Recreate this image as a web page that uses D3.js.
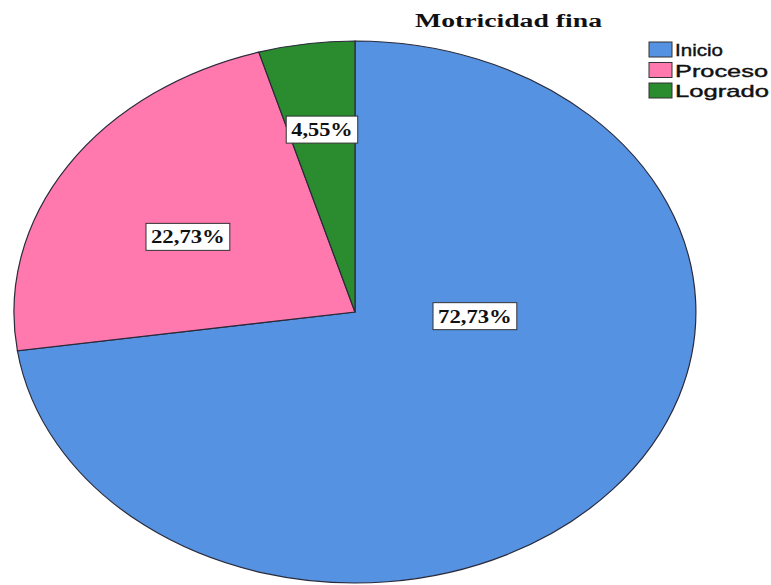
<!DOCTYPE html>
<html>
<head>
<meta charset="utf-8">
<script src="https://cdn.jsdelivr.net/npm/d3@7/dist/d3.min.js"></script>
<style>
  html, body { margin: 0; padding: 0; background: #fff; }
  svg { display: block; }
</style>
</head>
<body>
<script>
// Chart data
const title = "Motricidad fina";
const categories = ["Inicio", "Proceso", "Logrado"];
const percents = [72.73, 22.73, 4.55];
const colors = ["#5592E2", "#FF78AE", "#2B8B2F"];

const W = 771, H = 585;
const cx = 355, cy = 312, rx = 341, ry = 271;

// Label anchors (angle in degrees clockwise from 12 o'clock, radial fraction of the ellipse)
const labelAnchors = [
  { angle: 92.5, r: 0.352 },
  { angle: 299.5, r: 0.563 },
  { angle: null, r: 0.68 }
];

const svg = d3.select("body").append("svg")
  .attr("width", W).attr("height", H);

const data = categories.map((c, i) => ({ name: c, value: percents[i], color: colors[i] }));

const pie = d3.pie().sort(null).value(d => d.value);
const arcs = pie(data);
const arc = d3.arc().innerRadius(0).outerRadius(1);

// Elliptical pie: unit arcs stretched to the ellipse radii
const g = svg.append("g").attr("transform", `translate(${cx},${cy}) scale(${rx},${ry})`);
g.selectAll("path").data(arcs).join("path")
  .attr("d", arc)
  .attr("fill", d => d.data.color)
  .attr("stroke", "#2a2a3a")
  .attr("stroke-width", 1.2)
  .attr("vector-effect", "non-scaling-stroke");

// Percentage labels in white boxes, sized to the text
const fmt = v => v.toFixed(2).replace(".", ",") + "%";
const lab = svg.append("g");
arcs.forEach((a, i) => {
  const anc = labelAnchors[i];
  const ang = anc.angle != null ? anc.angle * Math.PI / 180 : (a.startAngle + a.endAngle) / 2;
  const x = cx + Math.sin(ang) * rx * anc.r;
  const y = cy - Math.cos(ang) * ry * anc.r;
  const s = fmt(a.data.value);
  const tw = 12.3 * s.length, bw = tw + 10, bh = 27;
  const grp = lab.append("g").attr("transform", `translate(${x},${y})`);
  grp.append("rect")
    .attr("x", -bw / 2).attr("y", -bh / 2)
    .attr("width", bw).attr("height", bh)
    .attr("fill", "#fff")
    .attr("stroke", "#333")
    .attr("stroke-width", 1);
  grp.append("text")
    .attr("x", -tw / 2).attr("y", 6.5)
    .attr("textLength", tw)
    .attr("lengthAdjust", "spacingAndGlyphs")
    .attr("font-family", "'Liberation Serif', 'Times New Roman', serif")
    .attr("font-weight", "bold")
    .attr("font-size", 19)
    .attr("fill", "#111")
    .text(s);
});

// Title
svg.append("text")
  .attr("x", 415).attr("y", 27)
  .attr("textLength", 187)
  .attr("lengthAdjust", "spacingAndGlyphs")
  .attr("font-family", "'Liberation Serif', 'Times New Roman', serif")
  .attr("font-weight", "bold")
  .attr("font-size", 18)
  .attr("fill", "#111")
  .text(title);

// Legend
const legendWidths = [48, 93, 94];
const leg = svg.append("g").attr("transform", "translate(649,42)");
data.forEach((d, i) => {
  const row = leg.append("g").attr("transform", `translate(0,${i * 20.5})`);
  row.append("rect")
    .attr("x", 0).attr("y", 0)
    .attr("width", 23).attr("height", 15)
    .attr("fill", d.color)
    .attr("stroke", "#333")
    .attr("stroke-width", 1);
  row.append("text")
    .attr("x", 26).attr("y", 14)
    .attr("textLength", legendWidths[i])
    .attr("lengthAdjust", "spacingAndGlyphs")
    .attr("font-family", "'Liberation Sans', Arial, sans-serif")
    .attr("font-size", 17)
    .attr("fill", "#111")
    .attr("stroke", "#111")
    .attr("stroke-width", 0.4)
    .text(d.name);
});
</script>
</body>
</html>
